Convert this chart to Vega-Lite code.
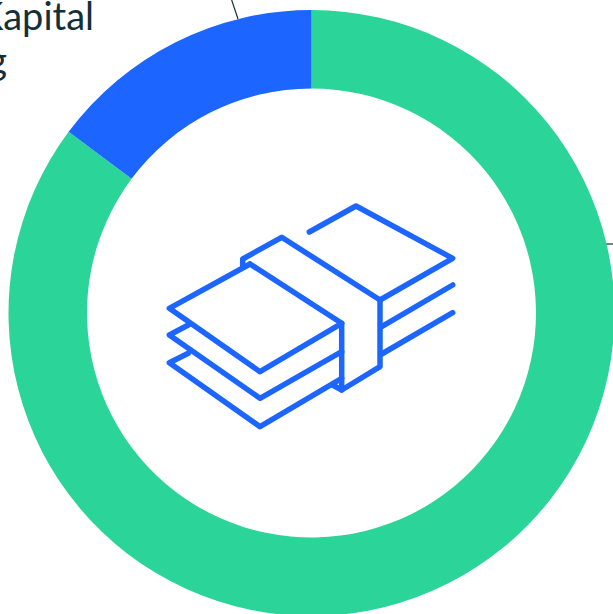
{"$schema":"https://vega.github.io/schema/vega-lite/v6.json","width":613,"height":614,"padding":0,"autosize":{"type":"none"},"background":"white","view":{"stroke":null},
"datasets":{"share":[{"segment":"Other","value":85.2},{"segment":"Kapital","value":14.8}],
"leaders":[{"id":"top","x":231,"y":-2,"o":0},{"id":"top","x":238,"y":19,"o":1},{"id":"right","x":606,"y":244,"o":0},{"id":"right","x":615,"y":244,"o":1}],
"labels":[{"label":"Kapital","x":94,"y":30},{"label":"g","x":7,"y":74}],
"icon":[
{"p":"a","o":0,"x":309.3,"y":232},{"p":"a","o":1,"x":356,"y":206},{"p":"a","o":2,"x":452.7,"y":258.3},{"p":"a","o":3,"x":380,"y":300},{"p":"a","o":4,"x":281.7,"y":237.3},{"p":"a","o":5,"x":242.7,"y":259},{"p":"a","o":6,"x":242.7,"y":267.3},
{"p":"b","o":0,"x":380,"y":300},{"p":"b","o":1,"x":380,"y":366.7},{"p":"b","o":2,"x":341.7,"y":390},{"p":"b","o":3,"x":332.7,"y":385},
{"p":"c","o":0,"x":250,"y":264},{"p":"c","o":1,"x":341.7,"y":323.3},{"p":"c","o":2,"x":260,"y":371.7},{"p":"c","o":3,"x":169.3,"y":308.3},{"p":"c","o":4,"x":250,"y":264},
{"p":"d","o":0,"x":341.7,"y":323.3},{"p":"d","o":1,"x":341.7,"y":390},
{"p":"e","o":0,"x":188.3,"y":325},{"p":"e","o":1,"x":169.3,"y":335},{"p":"e","o":2,"x":260,"y":398.3},{"p":"e","o":3,"x":341.7,"y":351.7},
{"p":"f","o":0,"x":188.3,"y":353.3},{"p":"f","o":1,"x":169.3,"y":362.7},{"p":"f","o":2,"x":260,"y":426.7},{"p":"f","o":3,"x":341.7,"y":378.3},
{"p":"g","o":0,"x":381.7,"y":326.7},{"p":"g","o":1,"x":452.7,"y":285},
{"p":"h","o":0,"x":381.7,"y":354},{"p":"h","o":1,"x":452.7,"y":312.7}]},
"layer":[
{"data":{"name":"leaders"},"mark":{"type":"line","stroke":"#13303a","strokeWidth":1.2,"clip":true},"encoding":{"x":{"field":"x","type":"quantitative","scale":{"domain":[0,613],"nice":false,"zero":false},"axis":null},"y":{"field":"y","type":"quantitative","scale":{"domain":[614,0],"nice":false,"zero":false},"axis":null},"detail":{"field":"id"},"order":{"field":"o"}}},
{"data":{"name":"share"},"mark":{"type":"arc","radius":303,"radius2":224.5},"encoding":{"x":{"datum":311.5,"type":"quantitative"},"y":{"datum":313,"type":"quantitative"},"theta":{"field":"value","type":"quantitative","stack":true},"order":{"field":"value","sort":"descending"},"color":{"field":"segment","type":"nominal","legend":null,"scale":{"domain":["Other","Kapital"],"range":["#2bd498","#1c66ff"]}}}},
{"data":{"name":"icon"},"mark":{"type":"line","stroke":"#1c66ff","strokeWidth":5.5,"strokeCap":"round","strokeJoin":"round"},"encoding":{"x":{"field":"x","type":"quantitative"},"y":{"field":"y","type":"quantitative"},"detail":{"field":"p"},"order":{"field":"o"}}},
{"data":{"name":"labels"},"mark":{"type":"text","align":"right","baseline":"alphabetic","font":"Lato","fontSize":38,"color":"#13303a"},"encoding":{"x":{"field":"x","type":"quantitative"},"y":{"field":"y","type":"quantitative"},"text":{"field":"label"}}}
]}
